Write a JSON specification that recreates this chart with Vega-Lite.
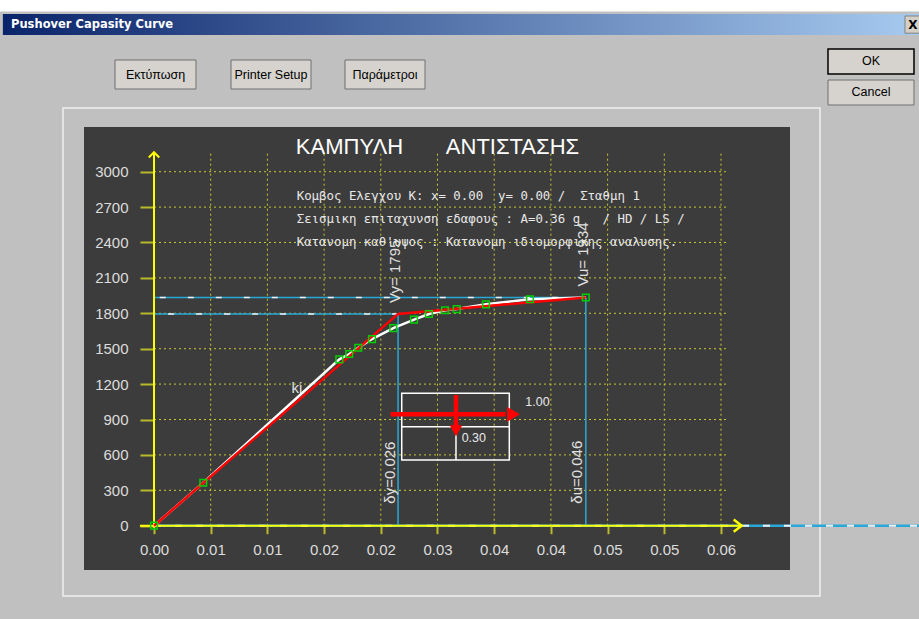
{
  "$schema": "https://vega.github.io/schema/vega-lite/v6.json",
  "width": 706,
  "height": 443,
  "autosize": {"type": "none"},
  "padding": {"left": 84, "top": 127, "right": 129, "bottom": 49},
  "background": "#c0c0c0",
  "config": {
    "view": {"fill": "#3c3c3c", "stroke": null},
    "axisX": {"domain": false, "grid": false, "offset": -44.3, "tickColor": "#b9b92c", "tickSize": 8, "tickWidth": 2, "labelColor": "#dcdcdc", "labelFont": "Liberation Sans", "labelFontSize": 15, "labelPadding": 9, "labelFlush": false, "labelOverlap": false},
    "axisY": {"domain": false, "grid": false, "offset": -70, "tickColor": "#b9b92c", "tickSize": 14, "tickWidth": 2, "labelColor": "#dcdcdc", "labelFont": "Liberation Sans", "labelFontSize": 15, "labelPadding": 12, "labelFlush": false, "labelOverlap": false}
  },
  "datasets": {
    "curve": [
      {"d": 0, "V": 0}, {"d": 0.00525, "V": 364}, {"d": 0.01974, "V": 1410}, {"d": 0.0208, "V": 1455},
      {"d": 0.02176, "V": 1508}, {"d": 0.02322, "V": 1582}, {"d": 0.02549, "V": 1675}, {"d": 0.0277, "V": 1747},
      {"d": 0.02929, "V": 1794}, {"d": 0.031, "V": 1826}, {"d": 0.03225, "V": 1836}, {"d": 0.03537, "V": 1876},
      {"d": 0.04005, "V": 1919}, {"d": 0.046, "V": 1934}
    ],
    "bilinear": [{"d": 0, "V": 0}, {"d": 0.026, "V": 1795}, {"d": 0.046, "V": 1934}],
    "points": [
      {"d": 0.026, "V": 1795, "vl": "Vy= 1795", "dl": "δy=0.026"},
      {"d": 0.046, "V": 1934, "vl": "Vu= 1934", "dl": "δu=0.046"}
    ],
    "gridx": [{"d": 0.00604}, {"d": 0.01208}, {"d": 0.01812}, {"d": 0.02416}, {"d": 0.0302}, {"d": 0.03624}, {"d": 0.04228}, {"d": 0.04832}, {"d": 0.05436}, {"d": 0.0604}],
    "gridy": [{"V": 300}, {"V": 600}, {"V": 900}, {"V": 1200}, {"V": 1500}, {"V": 1800}, {"V": 2100}, {"V": 2400}, {"V": 2700}, {"V": 3000}]
  },
  "layer": [
    {"data": {"values": [{"part": "top strip"}]}, "mark": {"type": "rect", "fill": "#ffffff"},
     "encoding": {"x": {"datum": -0.0165, "type": "quantitative", "scale": {"domain": [-0.007457, 0.067751], "nice": false, "zero": false}}, "x2": {"datum": 0.0816},
                  "y": {"datum": 4456, "type": "quantitative", "scale": {"domain": [-375.4, 3378.8], "nice": false, "zero": false}}, "y2": {"datum": 4357.6}}},
    {"data": {"values": [{"part": "title bar"}]}, "mark": {"type": "rect", "fill": {"gradient": "linear", "x1": 0, "y1": 0, "x2": 1, "y2": 0, "stops": [{"offset": 0, "color": "#0a246a"}, {"offset": 1, "color": "#a6caf0"}]}},
     "encoding": {"x": {"datum": -0.0161, "type": "quantitative"}, "x2": {"datum": 0.0815}, "y": {"datum": 4336.4, "type": "quantitative"}, "y2": {"datum": 4158.5}}},
    {"data": {"values": [{"label": "Pushover Capasity Curve"}]}, "mark": {"type": "text", "align": "left", "baseline": "middle", "font": "DejaVu Sans", "fontWeight": "bold", "fontSize": 11.5, "color": "#ffffff"},
     "encoding": {"x": {"datum": -0.015233, "type": "quantitative"}, "y": {"datum": 4243, "type": "quantitative"}, "text": {"field": "label", "type": "nominal"}}},
    {"data": {"values": [{"label": "X"}]}, "layer": [
      {"mark": {"type": "rect", "fill": "#d4d0c8", "stroke": "#808080", "strokeWidth": 1},
       "encoding": {"x": {"datum": 0.0800, "type": "quantitative"}, "x2": {"datum": 0.0816}, "y": {"datum": 4319.5, "type": "quantitative"}, "y2": {"datum": 4174}}},
      {"mark": {"type": "text", "font": "DejaVu Sans", "fontWeight": "bold", "fontSize": 12, "color": "#000000"},
       "encoding": {"x": {"datum": 0.08085, "type": "quantitative"}, "y": {"datum": 4247, "type": "quantitative"}, "text": {"field": "label", "type": "nominal"}}}
    ]},
    {"data": {"values": [{"label": "Εκτύπωση"}]}, "layer": [
      {"mark": {"type": "rect", "fill": "#d6d3ce", "stroke": "#707070", "strokeWidth": 1},
       "encoding": {"x": {"datum": -0.004155, "type": "quantitative"}, "x2": {"datum": 0.004474}, "y": {"datum": 3946.6, "type": "quantitative"}, "y2": {"datum": 3700.8}}},
      {"mark": {"type": "text", "font": "Liberation Sans", "fontSize": 12.5, "color": "#000000"},
       "encoding": {"x": {"datum": 0.00016, "type": "quantitative"}, "y": {"datum": 3823.7, "type": "quantitative"}, "text": {"field": "label", "type": "nominal"}}}
    ]},
    {"data": {"values": [{"label": "Printer Setup"}]}, "layer": [
      {"mark": {"type": "rect", "fill": "#d6d3ce", "stroke": "#707070", "strokeWidth": 1},
       "encoding": {"x": {"datum": 0.008203, "type": "quantitative"}, "x2": {"datum": 0.016725}, "y": {"datum": 3946.6, "type": "quantitative"}, "y2": {"datum": 3700.8}}},
      {"mark": {"type": "text", "font": "Liberation Sans", "fontSize": 12.5, "color": "#000000"},
       "encoding": {"x": {"datum": 0.012464, "type": "quantitative"}, "y": {"datum": 3823.7, "type": "quantitative"}, "text": {"field": "label", "type": "nominal"}}}
    ]},
    {"data": {"values": [{"label": "Παράμετροι"}]}, "layer": [
      {"mark": {"type": "rect", "fill": "#d6d3ce", "stroke": "#707070", "strokeWidth": 1},
       "encoding": {"x": {"datum": 0.020346, "type": "quantitative"}, "x2": {"datum": 0.028869}, "y": {"datum": 3946.6, "type": "quantitative"}, "y2": {"datum": 3700.8}}},
      {"mark": {"type": "text", "font": "Liberation Sans", "fontSize": 12.5, "color": "#000000"},
       "encoding": {"x": {"datum": 0.024608, "type": "quantitative"}, "y": {"datum": 3823.7, "type": "quantitative"}, "text": {"field": "label", "type": "nominal"}}}
    ]},
    {"data": {"values": [{"label": "OK"}]}, "layer": [
      {"mark": {"type": "rect", "fill": "#d6d3ce", "stroke": "#000000", "strokeWidth": 1.5},
       "encoding": {"x": {"datum": 0.071798, "type": "quantitative"}, "x2": {"datum": 0.08096}, "y": {"datum": 4039.8, "type": "quantitative"}, "y2": {"datum": 3828}}},
      {"mark": {"type": "text", "font": "Liberation Sans", "fontSize": 12.5, "color": "#000000"},
       "encoding": {"x": {"datum": 0.076379, "type": "quantitative"}, "y": {"datum": 3933.9, "type": "quantitative"}, "text": {"field": "label", "type": "nominal"}}}
    ]},
    {"data": {"values": [{"label": "Cancel"}]}, "layer": [
      {"mark": {"type": "rect", "fill": "#d6d3ce", "stroke": "#707070", "strokeWidth": 1},
       "encoding": {"x": {"datum": 0.071798, "type": "quantitative"}, "x2": {"datum": 0.08096}, "y": {"datum": 3777.1, "type": "quantitative"}, "y2": {"datum": 3565.3}}},
      {"mark": {"type": "text", "font": "Liberation Sans", "fontSize": 12.5, "color": "#000000"},
       "encoding": {"x": {"datum": 0.076379, "type": "quantitative"}, "y": {"datum": 3671.2, "type": "quantitative"}, "text": {"field": "label", "type": "nominal"}}}
    ]},
    {"data": {"values": [{"part": "panel frame"}]}, "mark": {"type": "rect", "fillOpacity": 0, "stroke": "#e4e4e4", "strokeWidth": 2},
     "encoding": {"x": {"datum": -0.009694, "type": "quantitative"}, "x2": {"datum": 0.070946}, "y": {"datum": 3539.8, "type": "quantitative"}, "y2": {"datum": -595.8}}},
    {"data": {"name": "gridx"}, "mark": {"type": "rule", "stroke": "#c8c832", "strokeDash": [2, 3], "strokeWidth": 1},
     "encoding": {"x": {"field": "d", "type": "quantitative"}, "y": {"datum": 0, "type": "quantitative"}, "y2": {"datum": 3165}}},
    {"data": {"name": "gridy"}, "mark": {"type": "rule", "stroke": "#c8c832", "strokeDash": [2, 3], "strokeWidth": 1},
     "encoding": {"y": {"field": "V", "type": "quantitative"}, "x": {"datum": 0, "type": "quantitative"}, "x2": {"datum": 0.061}}},
    {"data": {"values": [{"part": "baseline"}]}, "mark": {"type": "rule", "stroke": "#28a8d8", "strokeWidth": 2.5},
     "encoding": {"y": {"datum": 0, "type": "quantitative"}, "x": {"datum": 0, "type": "quantitative"}, "x2": {"datum": 0.0816}}},
    {"data": {"values": [{"part": "baseline dashes"}]}, "mark": {"type": "rule", "stroke": "#f0f0f0", "strokeWidth": 2, "strokeDash": [7, 14]},
     "encoding": {"y": {"datum": 0, "type": "quantitative"}, "x": {"datum": 0, "type": "quantitative"}, "x2": {"datum": 0.0816}}},
    {"data": {"name": "points"}, "mark": {"type": "rule", "stroke": "#28a8d8", "strokeWidth": 1.5},
     "encoding": {"y": {"field": "V", "type": "quantitative"}, "x": {"field": "d", "type": "quantitative"}, "x2": {"datum": 0}}},
    {"data": {"name": "points"}, "mark": {"type": "rule", "stroke": "#f0f0f0", "strokeWidth": 1.5, "strokeDash": [6, 22]},
     "encoding": {"y": {"field": "V", "type": "quantitative"}, "x": {"field": "d", "type": "quantitative"}, "x2": {"datum": 0}}},
    {"data": {"name": "points"}, "mark": {"type": "rule", "stroke": "#28a8d8", "strokeWidth": 1.5},
     "encoding": {"x": {"field": "d", "type": "quantitative"}, "y": {"field": "V", "type": "quantitative"}, "y2": {"datum": 0}}},
    {"data": {"values": [{"part": "y axis line"}]}, "mark": {"type": "rule", "stroke": "#ffff00", "strokeWidth": 2},
     "encoding": {"x": {"datum": 0, "type": "quantitative"}, "y": {"datum": -15, "type": "quantitative"}, "y2": {"datum": 3165}}},
    {"data": {"values": [{"part": "x axis line"}]}, "mark": {"type": "rule", "stroke": "#ffff00", "strokeWidth": 2},
     "encoding": {"y": {"datum": 0, "type": "quantitative"}, "x": {"datum": -0.0015, "type": "quantitative"}, "x2": {"datum": 0.0626}}},
    {"data": {"values": [{"part": "y arrow"}]}, "mark": {"type": "point", "shape": "M-1,1L0,0L1,1", "filled": false, "stroke": "#ffff00", "strokeWidth": 2, "size": 110, "opacity": 1},
     "encoding": {"x": {"datum": 0, "type": "quantitative"}, "y": {"datum": 3165, "type": "quantitative"}}},
    {"data": {"values": [{"part": "x arrow"}]}, "mark": {"type": "point", "shape": "M-1.3,-1L0,0L-1.3,1", "filled": false, "stroke": "#ffff00", "strokeWidth": 2.5, "size": 150, "opacity": 1},
     "encoding": {"x": {"datum": 0.0626, "type": "quantitative"}, "y": {"datum": 0, "type": "quantitative"}}},
    {"data": {"name": "curve"}, "mark": {"type": "line", "stroke": "#ffffff", "strokeWidth": 2.5},
     "encoding": {
       "x": {"field": "d", "type": "quantitative", "scale": {"domain": [-0.007457, 0.067751], "nice": false, "zero": false},
             "axis": {"values": [0, 0.00604, 0.01208, 0.01812, 0.02416, 0.0302, 0.03624, 0.04228, 0.04832, 0.05436, 0.0604], "format": ".2f", "title": null}},
       "y": {"field": "V", "type": "quantitative", "scale": {"domain": [-375.4, 3378.8], "nice": false, "zero": false},
             "axis": {"values": [0, 300, 600, 900, 1200, 1500, 1800, 2100, 2400, 2700, 3000], "format": "d", "title": null}}
     }},
    {"data": {"name": "bilinear"}, "mark": {"type": "line", "stroke": "#ff0000", "strokeWidth": 2.5},
     "encoding": {"x": {"field": "d", "type": "quantitative"}, "y": {"field": "V", "type": "quantitative"}}},
    {"data": {"name": "curve"}, "mark": {"type": "point", "shape": "square", "filled": false, "stroke": "#00d000", "strokeWidth": 1.5, "size": 45, "opacity": 1},
     "encoding": {"x": {"field": "d", "type": "quantitative"}, "y": {"field": "V", "type": "quantitative"}}},
    {"data": {"values": [{"part": "load box"}]}, "mark": {"type": "rect", "fillOpacity": 0, "stroke": "#ffffff", "strokeWidth": 1.5},
     "encoding": {"x": {"datum": 0.02639, "type": "quantitative"}, "x2": {"datum": 0.03785}, "y": {"datum": 1122, "type": "quantitative"}, "y2": {"datum": 556.8}}},
    {"data": {"values": [{"part": "load box divider"}]}, "mark": {"type": "rule", "stroke": "#ffffff", "strokeWidth": 1.5},
     "encoding": {"y": {"datum": 839, "type": "quantitative"}, "x": {"datum": 0.02639, "type": "quantitative"}, "x2": {"datum": 0.03785}}},
    {"data": {"values": [{"part": "load box stem"}]}, "mark": {"type": "rule", "stroke": "#ffffff", "strokeWidth": 1.5},
     "encoding": {"x": {"datum": 0.03217, "type": "quantitative"}, "y": {"datum": 839, "type": "quantitative"}, "y2": {"datum": 556.8}}},
    {"data": {"values": [{"part": "x load arrow"}]}, "mark": {"type": "rule", "stroke": "#ff0000", "strokeWidth": 4.5},
     "encoding": {"y": {"datum": 944, "type": "quantitative"}, "x": {"datum": 0.02521, "type": "quantitative"}, "x2": {"datum": 0.03745}}},
    {"data": {"values": [{"part": "x load arrow head"}]}, "mark": {"type": "point", "shape": "triangle-right", "filled": true, "fill": "#ff0000", "strokeWidth": 0, "size": 220, "opacity": 1},
     "encoding": {"x": {"datum": 0.0383, "type": "quantitative"}, "y": {"datum": 944, "type": "quantitative"}}},
    {"data": {"values": [{"part": "y load arrow"}]}, "mark": {"type": "rule", "stroke": "#ff0000", "strokeWidth": 4.5},
     "encoding": {"x": {"datum": 0.03217, "type": "quantitative"}, "y": {"datum": 1108, "type": "quantitative"}, "y2": {"datum": 835}}},
    {"data": {"values": [{"part": "y load arrow head"}]}, "mark": {"type": "point", "shape": "triangle-down", "filled": true, "fill": "#ff0000", "strokeWidth": 0, "size": 160, "opacity": 1},
     "encoding": {"x": {"datum": 0.03217, "type": "quantitative"}, "y": {"datum": 805, "type": "quantitative"}}},
    {"data": {"values": [{"label": "1.00"}]}, "mark": {"type": "text", "font": "Liberation Sans", "fontSize": 12.5, "color": "#e8e8e8"},
     "encoding": {"x": {"datum": 0.04085, "type": "quantitative"}, "y": {"datum": 1051, "type": "quantitative"}, "text": {"field": "label", "type": "nominal"}}},
    {"data": {"values": [{"label": "0.30"}]}, "mark": {"type": "text", "font": "Liberation Sans", "fontSize": 12.5, "color": "#e8e8e8"},
     "encoding": {"x": {"datum": 0.03407, "type": "quantitative"}, "y": {"datum": 743, "type": "quantitative"}, "text": {"field": "label", "type": "nominal"}}},
    {"data": {"name": "points"}, "mark": {"type": "text", "angle": 270, "align": "left", "baseline": "middle", "dx": 11, "dy": -3, "font": "Liberation Sans", "fontSize": 15, "color": "#e0e0e0"},
     "encoding": {"x": {"field": "d", "type": "quantitative"}, "y": {"field": "V", "type": "quantitative"}, "text": {"field": "vl", "type": "nominal"}}},
    {"data": {"name": "points"}, "mark": {"type": "text", "angle": 270, "align": "left", "baseline": "middle", "dx": 22, "dy": -8.5, "font": "Liberation Sans", "fontSize": 15, "color": "#e0e0e0"},
     "encoding": {"x": {"field": "d", "type": "quantitative"}, "y": {"datum": 0, "type": "quantitative"}, "text": {"field": "dl", "type": "nominal"}}},
    {"data": {"values": [{"label": "ki"}]}, "mark": {"type": "text", "font": "Liberation Sans", "fontSize": 15, "color": "#e0e0e0"},
     "encoding": {"x": {"datum": 0.01523, "type": "quantitative"}, "y": {"datum": 1167, "type": "quantitative"}, "text": {"field": "label", "type": "nominal"}}},
    {"data": {"values": [{"lines": ["Κομβος Ελεγχου Κ: x= 0.00\u00a0\u00a0y= 0.00 /\u00a0\u00a0Σταθμη 1", "Σεισμικη επιταχυνση εδαφους : A=0.36 g\u00a0\u00a0\u00a0/ HD / LS /", "Κατανομη καθ'υψος : Κατανομη ιδιομορφικης αναλυσης."]}]},
     "mark": {"type": "text", "align": "left", "baseline": "top", "lineHeight": 23, "font": "DejaVu Sans Mono", "fontSize": 12.4, "color": "#e8e8e8"},
     "encoding": {"x": {"datum": 0.0152, "type": "quantitative"}, "y": {"datum": 2847, "type": "quantitative"}, "text": {"field": "lines", "type": "nominal"}}},
    {"data": {"values": [{"label": "ΚΑΜΠΥΛΗ\u00a0\u00a0\u00a0\u00a0\u00a0\u00a0\u00a0ΑΝΤΙΣΤΑΣΗΣ"}]},
     "mark": {"type": "text", "align": "center", "baseline": "alphabetic", "font": "Liberation Sans", "fontSize": 22, "color": "#ffffff"},
     "encoding": {"x": {"datum": 0.0302, "type": "quantitative"}, "y": {"datum": 3150, "type": "quantitative"}, "text": {"field": "label", "type": "nominal"}}}
  ]
}
